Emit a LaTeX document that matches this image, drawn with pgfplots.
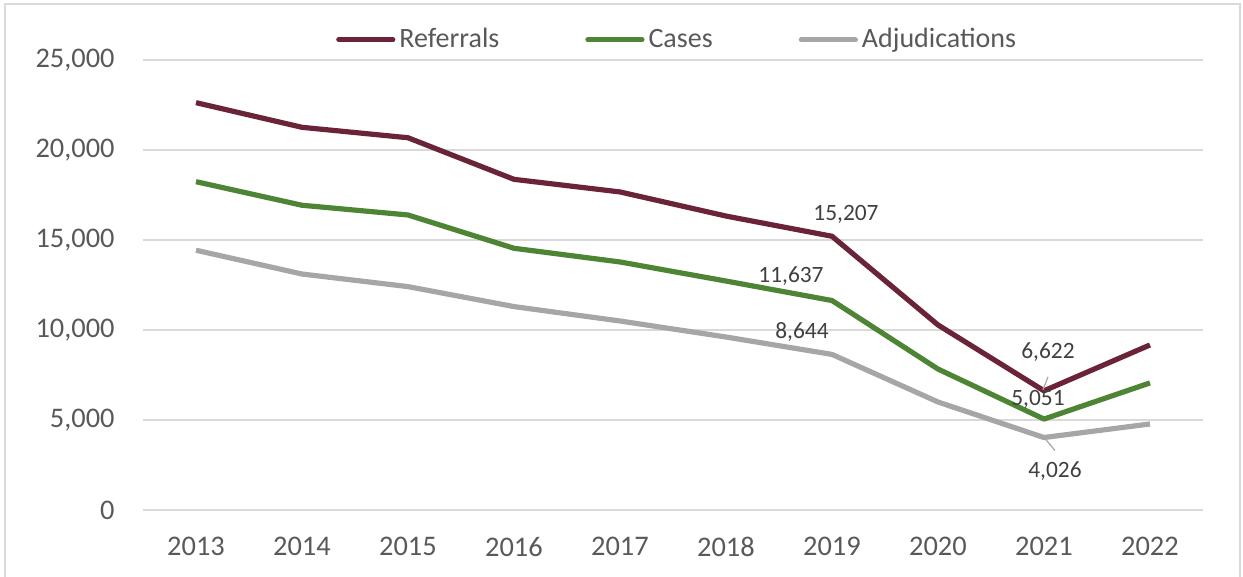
\documentclass[border=0pt]{standalone}
\usepackage{fontspec}
\setmainfont{Carlito}
\usepackage{pgfplots}
\pgfplotsset{compat=1.18}
\definecolor{refc}{HTML}{6B2338}
\definecolor{casc}{HTML}{4E8535}
\definecolor{adjc}{HTML}{A6A6A6}
\definecolor{txt}{HTML}{595959}
\definecolor{lbl}{HTML}{404040}
\definecolor{grd}{HTML}{D9D9D9}
\pgfplotsset{myleg/.style={legend image code/.code={\draw[##1, line cap=round] (0pt,0pt) -- (27pt,0pt);}}}
\begin{document}
\begin{tikzpicture}
\useasboundingbox (-71.5pt,-33.5pt) rectangle (550pt,255pt);
\draw[grd, line width=0.8pt] (-69pt,-34pt) -- (-69pt,253pt) -- (548.5pt,253pt) -- (548.5pt,-34pt);
\begin{axis}[
  scale only axis,
  width=530pt, height=225pt,
  xmin=2012.5, xmax=2022.5,
  ymin=0, ymax=25000,
  axis line style={draw=none},
  ytick={0,5000,10000,15000,20000,25000},
  xtick={2013,...,2022},
  xticklabels={2013,2014,2015,2016,2017,2018,2019,2020,2021,2022},
  major tick length=0pt,
  ymajorgrids,
  grid style={grd, line width=0.8pt},
  /pgf/number format/assume math mode=true,
  /pgf/number format/1000 sep={,},
  scaled y ticks=false,
  tick label style={font=\fontsize{14.2}{17}\selectfont, text=txt},
  yticklabel style={inner sep=0pt, xshift=-14pt},
  xticklabel style={inner sep=0pt, yshift=-13.5pt},
  legend columns=3,
  legend style={draw=none, fill=none, at={(0.503,1.045)}, anchor=center,
    font=\fontsize{14}{17}\selectfont, text=txt, inner sep=0pt,
    nodes={inner sep=0pt},
    /tikz/column 1/.style={column sep=2pt},
    /tikz/column 2/.style={column sep=43pt},
    /tikz/column 3/.style={column sep=2pt},
    /tikz/column 4/.style={column sep=43pt},
    /tikz/column 5/.style={column sep=2pt}},
  every axis plot/.append style={line width=2.6pt, line join=round},
  clip=false,
]
\addplot[refc, myleg] coordinates {(2013,22630) (2014,21260) (2015,20680) (2016,18370) (2017,17670) (2018,16330) (2019,15207) (2020,10280) (2021,6622) (2022,9170)};
\addlegendentry{Referrals}
\addplot[casc, myleg] coordinates {(2013,18240) (2014,16930) (2015,16390) (2016,14540) (2017,13780) (2018,12720) (2019,11637) (2020,7830) (2021,5051) (2022,7060)};
\addlegendentry{Cases}
\addplot[adjc, myleg] coordinates {(2013,14430) (2014,13110) (2015,12410) (2016,11300) (2017,10500) (2018,9610) (2019,8644) (2020,6000) (2021,4026) (2022,4780)};
\addlegendentry{Adjudications}
\draw[adjc, line width=0.6pt] (axis cs:2021,6622) ++(-0.5pt,0.5pt) -- ++(2.5pt,6.5pt);
\draw[adjc, line width=0.6pt] (axis cs:2021,4026) ++(0.5pt,-0.5pt) -- ++(5pt,-6pt);
\node[text=lbl, font=\fontsize{11.7}{14}\selectfont] at ([xshift=7pt,yshift=11pt]axis cs:2019,15207) {15,207};
\node[text=lbl, font=\fontsize{11.7}{14}\selectfont] at ([xshift=-20.5pt,yshift=12pt]axis cs:2019,11637) {11,637};
\node[text=lbl, font=\fontsize{11.7}{14}\selectfont] at ([xshift=-15pt,yshift=11pt]axis cs:2019,8644) {8,644};
\node[text=lbl, font=\fontsize{11.7}{14}\selectfont] at ([xshift=2pt,yshift=19.5pt]axis cs:2021,6622) {6,622};
\node[text=lbl, font=\fontsize{11.7}{14}\selectfont] at ([xshift=-3pt,yshift=10pt]axis cs:2021,5051) {5,051};
\node[text=lbl, font=\fontsize{11.7}{14}\selectfont] at ([xshift=5.5pt,yshift=-16.75pt]axis cs:2021,4026) {4,026};
\end{axis}
\end{tikzpicture}
\end{document}
